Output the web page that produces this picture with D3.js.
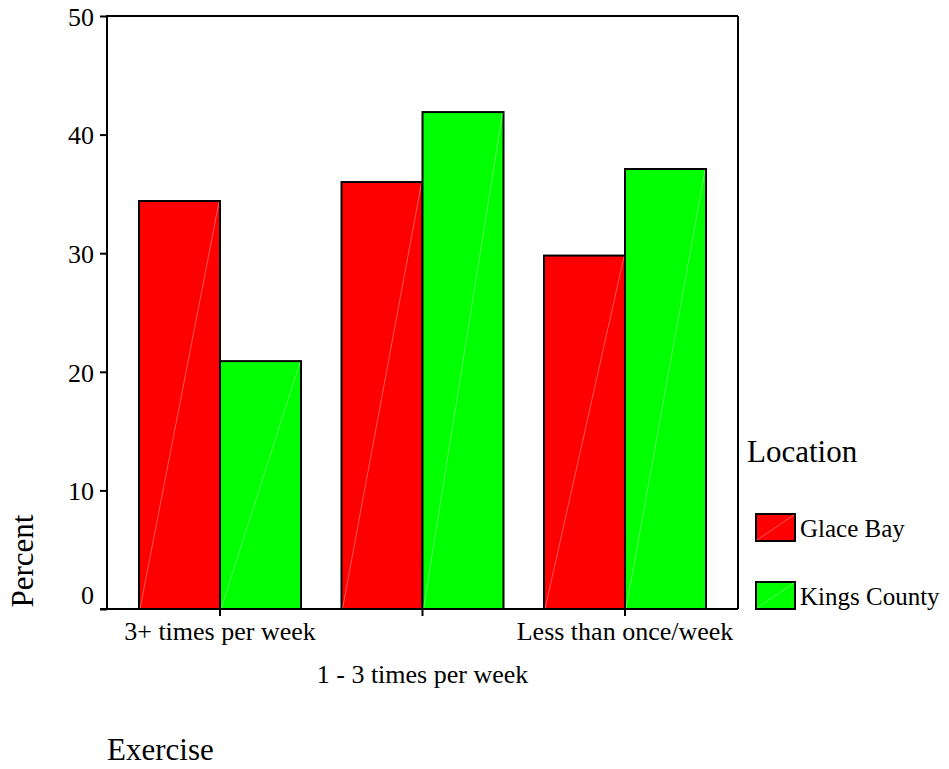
<!DOCTYPE html>
<html>
<head>
<meta charset="utf-8">
<script src="https://cdn.jsdelivr.net/npm/d3@7"></script>
<style>
  body { margin: 0; background: #fff; }
  text { font-family: "Liberation Serif", "Times New Roman", serif; fill: #000; }
</style>
</head>
<body>
<div id="chart"></div>
<script>
var categories = ["3+ times per week", "1 - 3 times per week", "Less than once/week"];
var locations = ["Glace Bay", "Kings County"];
var glaceBay = [34.4, 36.0, 29.8];
var kingsCounty = [20.9, 41.9, 37.1];
var yTicks = [0, 10, 20, 30, 40, 50];
var colors = ["#ff0000", "#00ff00"];

var width = 949, height = 769;
var plot = { left: 107, right: 738, top: 16, bottom: 609 };

var svg = d3.select("#chart")
  .append("svg")
  .attr("width", width)
  .attr("height", height);

var x0 = d3.scaleBand()
  .domain(categories)
  .range([plot.left, plot.right])
  .paddingInner(0.2)
  .paddingOuter(0.158);

var x1 = d3.scaleBand()
  .domain(locations)
  .range([0, x0.bandwidth()]);

var y = d3.scaleLinear()
  .domain([0, 50])
  .range([plot.bottom, plot.top]);

var rows = categories.map(function (c, i) {
  return { cat: c, vals: [glaceBay[i], kingsCounty[i]] };
});

// bars
var groups = svg.selectAll("g.grp")
  .data(rows)
  .enter()
  .append("g")
  .attr("class", "grp")
  .attr("transform", d => "translate(" + x0(d.cat) + ",0)");

var bars = groups.selectAll("g.bar")
  .data(d => d.vals.map((v, j) => ({ loc: locations[j], v: v, j: j })))
  .enter()
  .append("g");

bars.append("rect")
  .attr("x", d => x1(d.loc))
  .attr("y", d => y(d.v))
  .attr("width", x1.bandwidth())
  .attr("height", d => y(0) - y(d.v))
  .style("fill", d => colors[d.j])
  .style("stroke", "#000")
  .style("stroke-width", 2);

// faint diagonal artefact
bars.append("line")
  .attr("x1", d => x1(d.loc) + 1)
  .attr("y1", y(0))
  .attr("x2", d => x1(d.loc) + x1.bandwidth() - 1)
  .attr("y2", d => y(d.v) + 1)
  .style("stroke", "#fff")
  .style("stroke-width", 1)
  .style("opacity", 0.35);

// frame top and right
svg.append("line")
  .attr("x1", plot.left).attr("x2", plot.right)
  .attr("y1", plot.top).attr("y2", plot.top)
  .style("stroke", "#000").style("stroke-width", 2);
svg.append("line")
  .attr("x1", plot.right).attr("x2", plot.right)
  .attr("y1", plot.top).attr("y2", plot.bottom)
  .style("stroke", "#000").style("stroke-width", 2);

// y axis
var yAxis = svg.append("g")
  .attr("transform", "translate(" + plot.left + ",0)")
  .call(d3.axisLeft(y).tickValues(yTicks).tickSize(7).tickPadding(6));
yAxis.select(".domain").remove();
yAxis.selectAll(".tick line").style("stroke", "#000").style("stroke-width", 2);
yAxis.selectAll(".tick text")
  .style("font-size", "26px")
  .attr("font-family", null)
  .attr("dy", d => d === 0 ? "-0.22em" : "0.36em");
svg.append("line")
  .attr("x1", plot.left).attr("x2", plot.left)
  .attr("y1", plot.top - 1).attr("y2", plot.bottom + 1)
  .style("stroke", "#000").style("stroke-width", 2);

// x axis
svg.append("line")
  .attr("x1", plot.left - 7).attr("x2", plot.right)
  .attr("y1", plot.bottom).attr("y2", plot.bottom)
  .style("stroke", "#000").style("stroke-width", 2);

svg.selectAll("line.xtick")
  .data(categories)
  .enter()
  .append("line")
  .attr("class", "xtick")
  .attr("x1", d => x0(d) + x0.bandwidth() / 2)
  .attr("x2", d => x0(d) + x0.bandwidth() / 2)
  .attr("y1", plot.bottom)
  .attr("y2", plot.bottom + 7)
  .style("stroke", "#000").style("stroke-width", 2);

svg.selectAll("text.xlab")
  .data(categories)
  .enter()
  .append("text")
  .attr("class", "xlab")
  .attr("x", d => x0(d) + x0.bandwidth() / 2)
  .attr("y", (d, i) => i === 1 ? 683 : 640)
  .attr("text-anchor", "middle")
  .style("font-size", "26px")
  .text(d => d);

// axis titles
svg.append("text")
  .attr("transform", "translate(33,561) rotate(-90)")
  .attr("text-anchor", "middle")
  .style("font-size", "31px")
  .text("Percent");

svg.append("text")
  .attr("x", 107)
  .attr("y", 760)
  .style("font-size", "31px")
  .text("Exercise");

// legend
svg.append("text")
  .attr("x", 747)
  .attr("y", 462)
  .style("font-size", "31px")
  .text("Location");

var legend = svg.selectAll("g.leg")
  .data(locations)
  .enter()
  .append("g")
  .attr("class", "leg")
  .attr("transform", (d, i) => "translate(756," + (514 + i * 68) + ")");

legend.append("rect")
  .attr("width", 39)
  .attr("height", 27)
  .style("fill", (d, i) => colors[i])
  .style("stroke", "#000")
  .style("stroke-width", 2);

legend.append("line")
  .attr("x1", 1).attr("y1", 26).attr("x2", 38).attr("y2", 1)
  .style("stroke", "#fff").style("opacity", 0.35);

legend.append("text")
  .attr("x", 44)
  .attr("y", 23)
  .style("font-size", "25px")
  .text(d => d);
</script>
</body>
</html>
